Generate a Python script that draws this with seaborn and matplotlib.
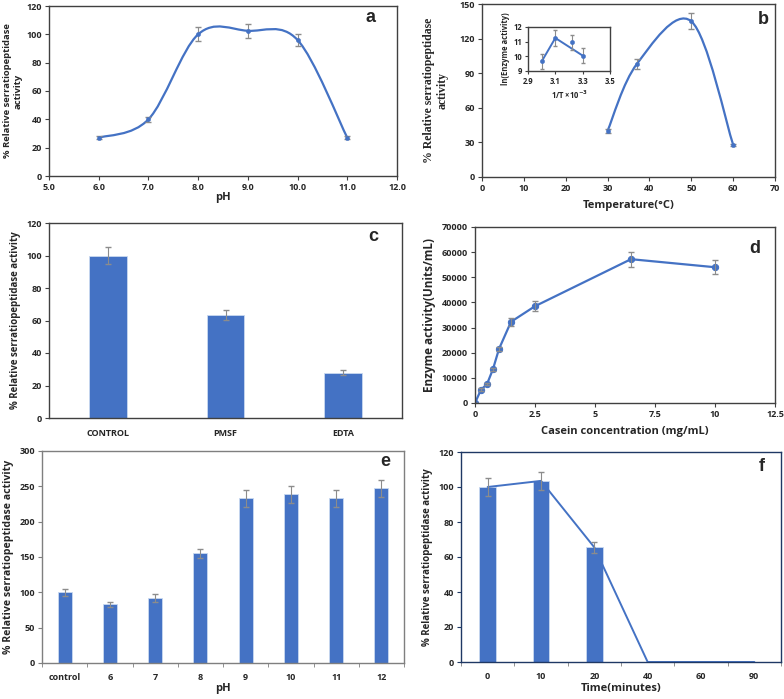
import numpy as np
import pandas as pd
import matplotlib
matplotlib.use('Agg')
import matplotlib.pyplot as plt
from matplotlib.path import Path
from matplotlib.patches import PathPatch
import seaborn as sns

# a: pH profile
ph_a = [6.0, 7.0, 8.0, 9.0, 10.0, 11.0]
act_a = [27, 40, 100, 102.5, 96, 27]
err_a = [1, 2, 5, 5, 4.5, 1]

# b: temperature profile + Arrhenius inset
temp_b = [30, 37, 50, 60]
act_b = [40, 98, 135, 28]
err_b = [2, 4, 7, 1]
inv_t = [3.0, 3.1, 3.22, 3.3]
ln_act = [9.65, 11.25, 10.95, 10.05]
ln_err = [0.5, 0.55, 0.5, 0.5]

# c: inhibitors
inhib = ['CONTROL', 'PMSF', 'EDTA']
act_c = [100, 63.5, 28]
err_c = [5, 3, 1.5]

# d: substrate concentration
casein = [0, 0.25, 0.5, 0.75, 1.0, 1.5, 2.5, 6.5, 10]
enz_d = [0, 5300, 7500, 13500, 21500, 32300, 38500, 57200, 54000]
err_d = [0, 500, 500, 600, 800, 1500, 2000, 3000, 2700]

# e: pH stability
ph_e = ['control', '6', '7', '8', '9', '10', '11', '12']
act_e = [100, 83, 92, 155, 233, 239, 233, 247]
err_e = [5, 4, 5, 7, 12, 12, 12, 12]

# f: thermal stability over time
time_f = ['0', '10', '20', '40', '60', '90']
act_f = [100, 103.5, 65.5, 0, 0, 0]
err_f = [5, 5, 3, 0, 0, 0]

BLUE = '#4472C4'
ERR = '#8c8c8c'
FRAME = '#404040'

sns.set_style('ticks')
plt.rcParams['font.family'] = ['Open Sans', 'DejaVu Sans']
plt.rcParams['font.weight'] = 'bold'
plt.rcParams['axes.labelweight'] = 'bold'

fig = plt.figure(figsize=(7.84, 6.99), dpi=100)
W, H = 784, 699


def add_ax(l, t, r, b):
    return fig.add_axes([l / W, (H - b) / H, (r - l) / W, (b - t) / H])


def style(ax, color=FRAME, size=6.5):
    for s in ax.spines.values():
        s.set_visible(True)
        s.set_color(color)
        s.set_linewidth(1.0)
    ax.tick_params(labelsize=size, length=3, width=0.8, color=color, pad=2)
    for t in ax.get_xticklabels() + ax.get_yticklabels():
        t.set_fontweight('bold')


def smooth_curve(x, y):
    # Excel-like smoothed line (Catmull-Rom as cubic Bezier)
    pts = np.column_stack([x, y]).astype(float)
    verts, codes = [pts[0]], [Path.MOVETO]
    for i in range(len(pts) - 1):
        p0 = pts[i - 1] if i > 0 else pts[i]
        p1, p2 = pts[i], pts[i + 1]
        p3 = pts[i + 2] if i + 2 < len(pts) else p2
        verts += [p1 + (p2 - p0) / 6, p2 - (p3 - p1) / 6, p2]
        codes += [Path.CURVE4] * 3
    return Path(verts, codes)


def letter(ax, s, x, y):
    ax.text(x, y, s, transform=ax.transAxes, fontsize=13, fontweight='bold',
            ha='center', va='center', family='Liberation Sans')


# ---- a ----
ax = add_ax(49, 6, 397, 176)
ax.add_patch(PathPatch(smooth_curve(ph_a, act_a), fc='none', ec=BLUE, lw=1.6))
ax.errorbar(ph_a, act_a, yerr=err_a, fmt='none', ecolor=ERR, elinewidth=0.8, capsize=2)
sns.scatterplot(x=ph_a, y=act_a, ax=ax, color=BLUE, s=10, marker='o', edgecolor=BLUE, zorder=3)
ax.set_xlim(5, 12)
ax.set_ylim(0, 120)
ax.set_xticks(np.arange(5, 12.1, 1))
ax.set_xticklabels([f'{v:.1f}' for v in np.arange(5, 12.1, 1)])
ax.set_yticks(range(0, 121, 20))
ax.set_xlabel('pH', fontsize=8, labelpad=0)
ax.set_ylabel('% Relative serratiopeptidase\nactivity', fontsize=6.8, labelpad=3)
style(ax)
letter(ax, 'a', 0.925, 0.93)

# ---- b ----
ax = add_ax(482, 4, 775, 177)
ax.add_patch(PathPatch(smooth_curve(temp_b, act_b), fc='none', ec=BLUE, lw=1.6))
ax.errorbar(temp_b, act_b, yerr=err_b, fmt='none', ecolor=ERR, elinewidth=0.8, capsize=2)
sns.scatterplot(x=temp_b, y=act_b, ax=ax, color=BLUE, s=10, marker='o', edgecolor=BLUE, zorder=3)
ax.set_xlim(0, 70)
ax.set_ylim(0, 150)
ax.set_xticks(range(0, 71, 10))
ax.set_yticks(range(0, 151, 30))
ax.set_xlabel('Temperature(°C)', fontsize=8, labelpad=5)
ax.set_ylabel('% Relative serratiopeptidase\nactivity', fontsize=8.5, labelpad=8,
              family='Liberation Serif')
style(ax)
letter(ax, 'b', 0.96, 0.91)

ins = add_ax(528, 27, 610, 71)
ins.plot([inv_t[0], inv_t[1], inv_t[3]], [ln_act[0], ln_act[1], ln_act[3]], color=BLUE, lw=1.4)
ins.errorbar(inv_t, ln_act, yerr=ln_err, fmt='none', ecolor=ERR, elinewidth=0.8, capsize=1.5)
sns.scatterplot(x=inv_t, y=ln_act, ax=ins, color=BLUE, s=10, edgecolor=BLUE, zorder=3)
ins.set_xlim(2.9, 3.5)
ins.set_ylim(9, 12)
ins.set_xticks([2.9, 3.1, 3.3, 3.5])
ins.set_yticks([9, 10, 11, 12])
ins.set_xlabel('1/T ×10$^{-3}$', fontsize=5.5, labelpad=2)
ins.set_ylabel('ln(Enzyme activity)', fontsize=5.5, labelpad=3)
style(ins, size=5.5)
ins.tick_params(length=2)

# ---- c ----
ax = add_ax(49, 223, 402, 418)
sns.barplot(x=inhib, y=act_c, ax=ax, color=BLUE, width=0.32, errorbar=None,
            edgecolor='#c9d9f0', linewidth=0.6, saturation=1)
ax.errorbar(np.arange(len(inhib)), act_c, yerr=err_c, fmt='none', ecolor=ERR,
            elinewidth=0.8, capsize=2)
ax.set_xlim(-0.5, len(inhib) - 0.5)
ax.set_ylim(0, 120)
ax.set_yticks(range(0, 121, 20))
ax.set_ylabel('% Relative serratiopeptidase activity', fontsize=7, labelpad=4)
style(ax)
ax.tick_params(axis='x', length=0, pad=8)
letter(ax, 'c', 0.918, 0.93)

# ---- d ----
ax = add_ax(475, 227, 775, 403)
sns.lineplot(x=casein, y=enz_d, ax=ax, color=BLUE, lw=1.6, marker='o', markersize=4.5,
             markeredgecolor=BLUE, errorbar=None)
ax.errorbar(casein, enz_d, yerr=err_d, fmt='none', ecolor=ERR, elinewidth=0.8, capsize=2)
ax.set_xlim(0, 12.5)
ax.set_ylim(0, 70000)
ax.set_xticks([0, 2.5, 5, 7.5, 10, 12.5])
ax.set_xticklabels(['0', '2.5', '5', '7.5', '10', '12.5'])
ax.set_yticks(range(0, 70001, 10000))
ax.set_xlabel('Casein concentration (mg/mL)', fontsize=8, labelpad=5)
ax.set_ylabel('Enzyme activity(Units/mL)', fontsize=8.5, labelpad=4)
style(ax)
letter(ax, 'd', 0.933, 0.88)

# ---- e ----
ax = add_ax(42, 451, 404, 663)
sns.barplot(x=ph_e, y=act_e, ax=ax, color=BLUE, width=0.31, errorbar=None,
            edgecolor='#c9d9f0', linewidth=0.6, saturation=1)
ax.errorbar(np.arange(len(ph_e)), act_e, yerr=err_e, fmt='none', ecolor=ERR,
            elinewidth=0.8, capsize=2)
ax.set_xlim(-0.5, len(ph_e) - 0.5)
ax.set_ylim(0, 300)
ax.set_yticks(range(0, 301, 50))
ax.set_xlabel('pH', fontsize=8, labelpad=1)
ax.set_ylabel('% Relative serratiopeptidase activity', fontsize=7.6, labelpad=4)
style(ax, '#7f7f7f')
ax.set_xticks(np.arange(-0.5, len(ph_e)), minor=True)
ax.tick_params(axis='x', which='major', length=0, pad=7)
ax.tick_params(axis='x', which='minor', length=3, color='#7f7f7f')
letter(ax, 'e', 0.947, 0.95)

# ---- f ----
ax = add_ax(461, 452, 781, 662)
sns.barplot(x=time_f, y=act_f, ax=ax, color=BLUE, width=0.31, errorbar=None,
            edgecolor='#c9d9f0', linewidth=0.6, saturation=1)
pos_f = np.arange(len(time_f))
ax.plot(pos_f, act_f, color=BLUE, lw=1.4)
ax.errorbar(pos_f[:3], act_f[:3], yerr=err_f[:3], fmt='none', ecolor=ERR,
            elinewidth=0.8, capsize=2)
ax.set_xlim(-0.5, len(time_f) - 0.5)
ax.set_ylim(0, 120)
ax.set_yticks(range(0, 121, 20))
ax.set_xlabel('Time(minutes)', fontsize=8, labelpad=2)
ax.set_ylabel('% Relative serratiopeptidase activity', fontsize=7, labelpad=4)
style(ax, '#1f3864')
ax.set_xticks(np.arange(-0.5, len(time_f)), minor=True)
ax.tick_params(axis='x', which='major', length=0, pad=7)
ax.tick_params(axis='x', which='minor', length=3, color='#7f7f7f')
letter(ax, 'f', 0.94, 0.93)

fig.savefig('out.png', dpi=100)
